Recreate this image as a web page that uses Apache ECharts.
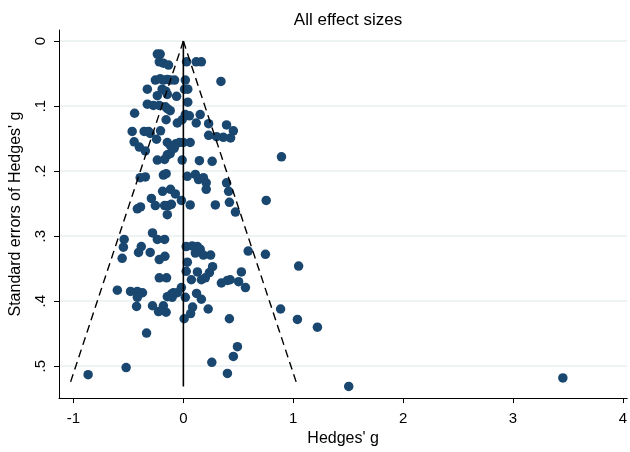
<!DOCTYPE html>
<html>
<head>
<meta charset="utf-8">
<title>All effect sizes</title>
<script src="https://cdn.jsdelivr.net/npm/echarts@6/dist/echarts.min.js"></script>
<style>
  html, body { margin: 0; padding: 0; background: #fff; }
  #chart { width: 630px; height: 452px; }
</style>
</head>
<body>
<div id="chart"></div>
<script>
// effect sizes (Hedges' g) and their standard errors
var hedgesG = [
  -0.237, -0.211, -0.219, -0.182, -0.135, 0.029, 0.117, 0.164,
  0.342, -0.255, -0.211, -0.182, -0.146, -0.117, -0.080, 0.018,
  -0.328, -0.193, -0.160, 0.011, 0.040, -0.237, -0.146, -0.062, 0.040,
  -0.328, -0.273, -0.219, -0.164, -0.146, -0.120, -0.444, 0.018, 0.055, 0.153, -0.157, -0.055, -0.011, 0.117, 0.230, 0.393,
  0.455, 0.430, 0.364, 0.302, 0.230, -0.466, -0.357, -0.317, -0.302, -0.244, -0.208, -0.448, -0.401, -0.346,
  -0.146, -0.117, -0.069, -0.036, 0.000, 0.062, -0.084, -0.146, -0.120, -0.237, -0.171, -0.011, 0.146, 0.262, 0.893,
  -0.393, -0.346, -0.182, -0.157, 0.036, 0.109, 0.138, 0.182, 0.208, 0.393, 0.412, 0.208, -0.189, -0.117, -0.073,
  -0.018, 0.754, -0.291, -0.255, -0.390, -0.419, -0.171, -0.135, -0.109, -0.146, 0.062, 0.291, 0.419, 0.474,
  -0.281, -0.237, -0.171, -0.539, -0.546, -0.383, -0.408, -0.557, -0.302, -0.219, -0.168, 0.026, 0.080, 0.128,
  0.153, 0.109, 0.182, 0.248, 0.036, 0.266, 0.237, 0.026, 0.128, 0.528, 0.590, 0.747, 1.049, -0.219, -0.153,
  0.073, 0.164, 0.200, 0.346, 0.401, 0.426, 0.503, 0.565,
  -0.601, -0.481, -0.419, -0.372, -0.419, -0.146, -0.109, -0.091, -0.055, -0.018, -0.102, 0.018, 0.120, 0.164,
  -0.426, -0.281, -0.226, -0.182, -0.157, 0.084, 0.066, 0.226, 0.885, 0.007, 0.419, 1.038, 1.220, -0.335,
  0.492, 0.455, 0.259, -0.521, -0.867, 0.401, 1.505, 3.454
];
var seG = [
  0.020, 0.020, 0.032, 0.034, 0.037, 0.032, 0.032, 0.032,
  0.062, 0.060, 0.058, 0.060, 0.059, 0.060, 0.060, 0.060,
  0.074, 0.074, 0.077, 0.074, 0.074, 0.084, 0.082, 0.085, 0.094,
  0.097, 0.099, 0.099, 0.101, 0.104, 0.107, 0.111, 0.113, 0.115, 0.113, 0.121, 0.126, 0.121, 0.126, 0.127, 0.129,
  0.138, 0.149, 0.148, 0.147, 0.145, 0.139, 0.139, 0.139, 0.142, 0.151, 0.138, 0.155, 0.163, 0.169,
  0.156, 0.161, 0.158, 0.156, 0.156, 0.156, 0.165, 0.175, 0.173, 0.183, 0.182, 0.183, 0.184, 0.185, 0.178,
  0.210, 0.209, 0.206, 0.204, 0.208, 0.205, 0.213, 0.210, 0.218, 0.218, 0.231, 0.228, 0.231, 0.228, 0.235,
  0.245, 0.245, 0.242, 0.253, 0.255, 0.258, 0.253, 0.253, 0.251, 0.267, 0.252, 0.252, 0.248, 0.263,
  0.295, 0.305, 0.305, 0.305, 0.317, 0.316, 0.325, 0.334, 0.325, 0.336, 0.331, 0.316, 0.315, 0.316,
  0.320, 0.326, 0.329, 0.329, 0.340, 0.347, 0.356, 0.354, 0.355, 0.355, 0.323, 0.328, 0.346, 0.364, 0.364,
  0.367, 0.367, 0.364, 0.372, 0.368, 0.367, 0.370, 0.379,
  0.383, 0.385, 0.385, 0.387, 0.394, 0.393, 0.389, 0.387, 0.387, 0.379, 0.394, 0.394, 0.388, 0.397,
  0.408, 0.407, 0.416, 0.407, 0.417, 0.409, 0.419, 0.412, 0.412, 0.427, 0.427, 0.428, 0.440, 0.449,
  0.470, 0.485, 0.494, 0.502, 0.513, 0.511, 0.531, 0.518
];

// pseudo 95% confidence limits and the zero line
var funnelLeft = [[0, 0], [-1.04, 0.531]];
var funnelRight = [[0, 0], [1.04, 0.531]];
var zeroLine = [[0, 0], [0, 0.531]];

var xTicks = [-1, 0, 1, 2, 3, 4];
var yTicks = [0, 0.1, 0.2, 0.3, 0.4, 0.5];
var yTickLabels = ['0', '.1', '.2', '.3', '.4', '.5'];

var points = hedgesG.map(function (g, i) { return [g, seG[i]]; });

var font = '"Liberation Sans", Arial, Helvetica, sans-serif';
var chart = echarts.init(document.getElementById('chart'));

chart.setOption({
  animation: false,
  backgroundColor: '#fff',
  textStyle: { fontFamily: font },
  title: {
    text: 'All effect sizes',
    left: 343,
    textAlign: 'center',
    top: 7,
    textStyle: { fontSize: 17, fontWeight: 'normal', color: '#000', fontFamily: font }
  },
  grid: { left: 58, right: 2, top: 30, bottom: 50 },
  xAxis: {
    type: 'value',
    min: -1.132,
    max: 4.04,
    name: "Hedges' g",
    nameLocation: 'middle',
    nameGap: 31,
    nameTextStyle: { fontSize: 16, color: '#000', fontFamily: font },
    axisLine: { show: true, onZero: false, lineStyle: { color: '#000', width: 1 } },
    axisTick: { show: true, length: 5, customValues: xTicks, lineStyle: { color: '#000' } },
    axisLabel: { customValues: xTicks, fontSize: 15, color: '#000', margin: 13 },
    splitLine: { show: false }
  },
  yAxis: {
    type: 'value',
    inverse: true,
    min: -0.017,
    max: 0.549,
    name: "Standard errors of Hedges' g",
    nameLocation: 'middle',
    nameGap: 35,
    nameTextStyle: { fontSize: 16, color: '#000', fontFamily: font },
    axisLine: { show: true, onZero: false, lineStyle: { color: '#000', width: 1 } },
    axisTick: { show: true, length: 5, customValues: yTicks, lineStyle: { color: '#000' } },
    axisLabel: {
      customValues: yTicks,
      rotate: 90,
      fontSize: 15,
      color: '#000',
      margin: 11,
      formatter: function (v) {
        var k = yTicks.indexOf(v);
        return k >= 0 ? yTickLabels[k] : '';
      }
    },
    splitLine: { show: true, lineStyle: { color: '#e8eff1', width: 1.5 } }
  },
  series: [
    {
      type: 'scatter',
      data: points,
      symbol: 'circle',
      symbolSize: 9.5,
      itemStyle: { color: '#1a476f', opacity: 1 },
      z: 2
    },
    {
      type: 'line',
      data: funnelLeft,
      showSymbol: false,
      lineStyle: { color: '#000', width: 1.4, type: [8, 5] },
      z: 3
    },
    {
      type: 'line',
      data: funnelRight,
      showSymbol: false,
      lineStyle: { color: '#000', width: 1.4, type: [8, 5] },
      z: 3
    },
    {
      type: 'line',
      data: zeroLine,
      showSymbol: false,
      lineStyle: { color: '#000', width: 1.6 },
      z: 3
    }
  ]
});
</script>
</body>
</html>
